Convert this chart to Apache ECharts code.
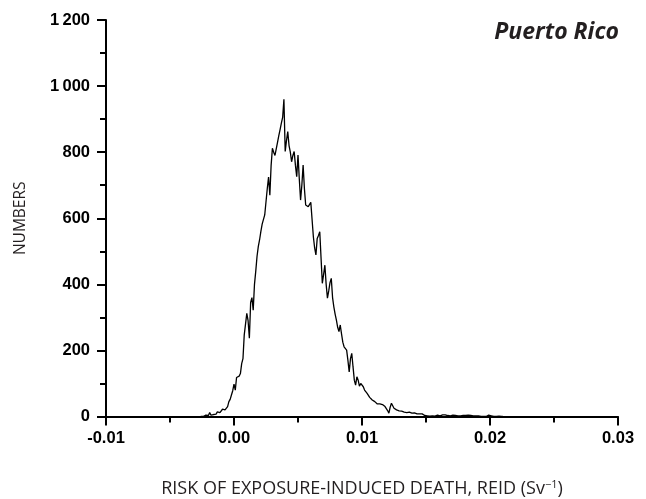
<!DOCTYPE html>
<html>
<head>
<meta charset="utf-8">
<script src="https://cdn.jsdelivr.net/npm/echarts@6/dist/echarts.min.js"></script>
<style>
html,body{margin:0;padding:0;background:#fff;}
#chart{width:646px;height:499px;}
</style>
</head>
<body>
<div id="chart"></div>
<script>
// Bin positions (REID, Sv^-1)
const risk = [
-0.0026,-0.0025,-0.0024,-0.0023,-0.0022,-0.0021,-0.0020,-0.0019,-0.0018,-0.0017,
-0.0016,-0.0015,-0.0014,-0.0013,-0.0012,-0.0011,-0.0010,-0.0009,-0.0008,-0.0007,
-0.0006,-0.0005,-0.0004,-0.0003,-0.0002,-0.0001,0.0000,0.0001,0.0002,0.0003,
0.0004,0.0005,0.0006,0.0007,0.0008,0.0009,0.0010,0.0011,0.0012,0.0013,
0.0014,0.0015,0.0016,0.0017,0.0018,0.0019,0.0020,0.0021,0.0022,0.0023,
0.0024,0.0025,0.0026,0.0027,0.0028,0.0029,0.0030,0.0031,0.0032,0.0033,
0.0034,0.0035,0.0036,0.0037,0.0038,0.0039,0.0040,0.0041,0.0042,0.0043,
0.0044,0.0045,0.0046,0.0047,0.0048,0.0049,0.0050,0.0051,0.0052,0.0053,
0.0054,0.0055,0.0056,0.0057,0.0058,0.0059,0.0060,0.0061,0.0062,0.0063,
0.0064,0.0065,0.0066,0.0067,0.0068,0.0069,0.0070,0.0071,0.0072,0.0073,
0.0074,0.0075,0.0076,0.0077,0.0078,0.0079,0.0080,0.0081,0.0082,0.0083,
0.0084,0.0085,0.0086,0.0087,0.0088,0.0089,0.0090,0.0091,0.0092,0.0093,
0.0094,0.0095,0.0096,0.0097,0.0098,0.0099,0.0100,0.0101,0.0102,0.0103,
0.0104,0.0105,0.0106,0.0107,0.0108,0.0109,0.0110,0.0111,0.0112,0.0113,
0.0114,0.0115,0.0116,0.0117,0.0118,0.0119,0.0120,0.0121,0.0122,0.0123,
0.0124,0.0125,0.0126,0.0127,0.0128,0.0129,0.0130,0.0131,0.0132,0.0133,
0.0134,0.0135,0.0136,0.0137,0.0138,0.0139,0.0140,0.0141,0.0142,0.0143,
0.0144,0.0145,0.0146,0.0147,0.0148,0.0149,0.0150,0.0151,0.0152,0.0153,
0.0154,0.0155,0.0156,0.0157,0.0158,0.0159,0.0160,0.0161,0.0162,0.0163,
0.0164,0.0165,0.0166,0.0167,0.0168,0.0169,0.0170,0.0171,0.0172,0.0173,
0.0174,0.0175,0.0176,0.0177,0.0178,0.0179,0.0180,0.0181,0.0182,0.0183,
0.0184,0.0185,0.0186,0.0187,0.0188,0.0189,0.0190,0.0191,0.0192,0.0193,
0.0194,0.0195,0.0196,0.0197,0.0198,0.0199,0.0200,0.0201,0.0202,0.0203,
0.0204,0.0205,0.0206,0.0207,0.0208,0.0209,0.0210
];
// Counts per bin
const counts = [
0,0,0,2,4,6,3,12,4,1,
6,9,7,14,20,12,16,22,25,20,
18,30,45,52,65,78,98,80,118,124,
122,130,160,175,247,250,312,290,237,345,
360,322,400,440,485,515,535,560,582,588,
610,650,690,725,670,760,812,800,790,785,
830,850,868,888,905,960,802,835,862,820,
800,771,790,802,760,726,791,720,655,700,
761,690,640,642,635,640,648,650,544,510,
489,539,548,559,480,403,430,458,400,358,
380,405,418,360,332,310,292,270,257,277,
250,225,211,205,201,170,135,175,191,150,
110,95,120,110,92,100,105,90,80,75,
70,65,58,52,50,48,45,42,38,35,
38,40,36,30,30,25,18,10,28,40,
35,25,22,20,20,17,15,16,15,13,
14,12,12,13,11,10,10,11,9,8,
9,8,7,8,6,3,2,2,3,1,
2,2,3,1,2,4,4,2,3,5,
3,5,5,3,4,2,3,4,2,3,
1,2,3,2,1,3,2,3,2,4,
6,3,1,2,1,2,1,2,1,0,
1,0,1,0,2,4,5,2,1,0,
1,0,0,1,0,0,0
];
const xTicks = [-0.01, 0.00, 0.01, 0.02, 0.03];
const yTicks = [0, 200, 400, 600, 800, 1000, 1200];
const titleText = 'Puerto Rico';
const xName = 'RISK OF EXPOSURE-INDUCED DEATH, REID (Sv{sup|\u22121})';
const yName = 'NUMBERS';

const seriesData = risk.map((r, i) => [r, counts[i]]);
const ink = '#231f20';
const chart = echarts.init(document.getElementById('chart'), null, {renderer: 'canvas'});
chart.setOption({
  animation: false,
  backgroundColor: '#fff',
  title: {
    text: titleText,
    right: 22, top: 16,
    textStyle: {fontFamily: 'Open Sans', fontStyle: 'italic', fontWeight: 'bold', fontSize: 23, color: ink}
  },
  grid: {left: 106, right: 28, top: 20, bottom: 82.5, containLabel: false, outerBoundsMode: 'none'},
  xAxis: {
    type: 'value',
    min: xTicks[0], max: xTicks[xTicks.length - 1], interval: 0.01,
    name: xName,
    nameLocation: 'middle', nameGap: 63,
    nameTextStyle: {
      fontFamily: 'Open Sans', fontSize: 18, color: ink,
      rich: {sup: {fontFamily: 'Open Sans', fontSize: 11, color: ink, verticalAlign: 'top', padding: [0, 0, 8, 0]}}
    },
    axisLine: {show: true, onZero: false, lineStyle: {color: '#000', width: 2}},
    axisTick: {show: true, inside: false, length: 9, lineStyle: {color: '#000', width: 2}},
    minorTick: {show: true, splitNumber: 2, length: 6, lineStyle: {color: '#000', width: 2}},
    splitLine: {show: false},
    axisLabel: {
      margin: 13, fontFamily: 'Liberation Sans', fontWeight: 'bold', fontSize: 16.5, color: '#000',
      formatter: v => v.toFixed(2)
    }
  },
  yAxis: {
    type: 'value',
    min: yTicks[0], max: yTicks[yTicks.length - 1], interval: 200,
    name: yName,
    nameLocation: 'middle', nameGap: 77, nameRotate: 90,
    nameTextStyle: {fontFamily: 'Open Sans', fontSize: 15.5, color: ink},
    axisLine: {show: true, onZero: false, lineStyle: {color: '#000', width: 2}},
    axisTick: {show: true, inside: false, length: 9, lineStyle: {color: '#000', width: 2}},
    minorTick: {show: true, splitNumber: 2, length: 6, lineStyle: {color: '#000', width: 2}},
    splitLine: {show: false},
    axisLabel: {
      margin: 16, fontFamily: 'Liberation Sans', fontWeight: 'bold', fontSize: 16.5, color: '#000',
      formatter: v => v >= 1000 ? String(v).replace(/(\d)(\d{3})$/, '$1\u2009$2') : String(v)
    }
  },
  series: [{
    type: 'line',
    data: seriesData,
    showSymbol: false,
    symbol: 'none',
    lineStyle: {color: '#000', width: 1.3},
    z: 3
  }]
});
</script>
</body>
</html>
